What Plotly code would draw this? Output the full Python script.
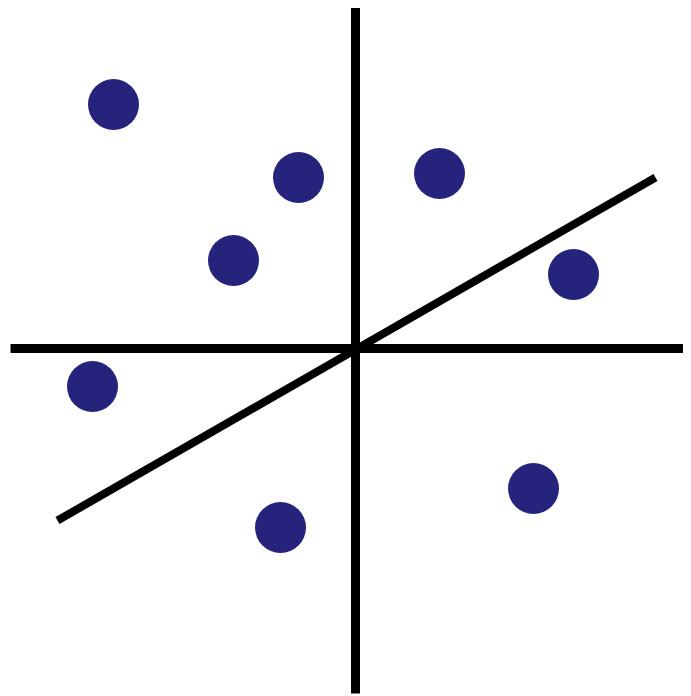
import plotly.graph_objects as go

# pixel-like data units, origin at the axes crossing
pts_x = [-242, -57, 84, -122, 218, -263, 178, -75]
pts_y = [244, 171, 175, 88, 74, -38, -140, -179]

fit_x = [-298, 300]
fit_y = [-172, 171]

hax_x = [-345, 336]
vax_y = [-345, 344]

fig = go.Figure()

fig.add_trace(go.Scatter(x=hax_x, y=[0, 0], mode="lines",
                         line=dict(color="black", width=9)))
fig.add_trace(go.Scatter(x=[0, 0], y=vax_y, mode="lines",
                         line=dict(color="black", width=9)))
fig.add_trace(go.Scatter(x=fit_x, y=fit_y, mode="lines",
                         line=dict(color="black", width=8)))
fig.add_trace(go.Scatter(x=pts_x, y=pts_y, mode="markers",
                         marker=dict(color="#26237d", size=51, line=dict(width=0))))

# page body has an 8px margin, so the figure is a bit smaller and shifted
fig.update_layout(
    width=683, height=688,
    margin=dict(l=0, r=0, t=0, b=0),
    paper_bgcolor="white", plot_bgcolor="white",
    showlegend=False,
    xaxis=dict(range=[-347.5, 335.5], visible=False, fixedrange=True),
    yaxis=dict(range=[-347.5, 340.5], visible=False, fixedrange=True),
)

fig.write_html("out.html", config={"displayModeBar": False})
